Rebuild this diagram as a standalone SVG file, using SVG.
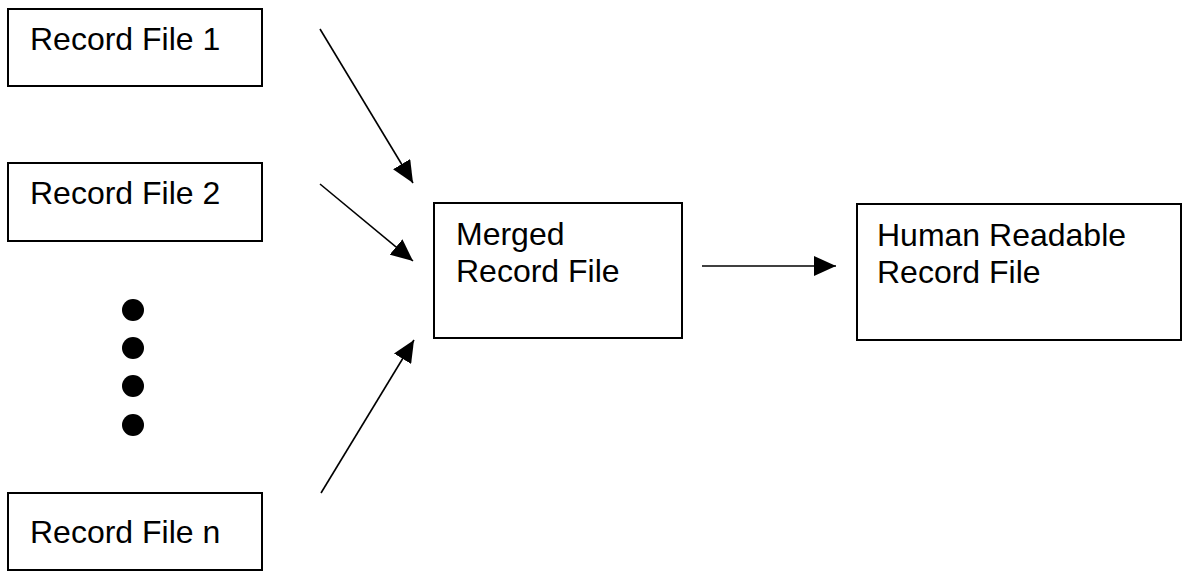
<svg xmlns="http://www.w3.org/2000/svg" width="1182" height="571" viewBox="0 0 1182 571">
  <style>
    .box { fill: #fff; stroke: #000; stroke-width: 2; }
    .lbl { font-family: "Liberation Sans", Arial, sans-serif; font-size: 32px; fill: #000; }
    .conn { stroke: #000; stroke-width: 1.6; fill: none; marker-end: url(#head); }
    .dot { fill: #000; }
  </style>
  <defs>
    <marker id="head" markerUnits="userSpaceOnUse" markerWidth="22" markerHeight="20" refX="22" refY="10" orient="auto">
      <path d="M0,0 L22,10 L0,20 Z" fill="#000"/>
    </marker>
  </defs>
  <rect width="1182" height="571" fill="#fff"/>

  <g id="record-file-1">
    <rect class="box" x="8" y="9" width="254" height="77"/>
    <text class="lbl" x="30" y="50">Record File 1</text>
  </g>

  <g id="record-file-2">
    <rect class="box" x="8" y="163" width="254" height="78"/>
    <text class="lbl" x="30" y="204">Record File 2</text>
  </g>

  <g id="ellipsis">
    <circle class="dot" cx="133" cy="310" r="11"/>
    <circle class="dot" cx="133" cy="348" r="11"/>
    <circle class="dot" cx="133" cy="386" r="11"/>
    <circle class="dot" cx="133" cy="425" r="11"/>
  </g>

  <g id="record-file-n">
    <rect class="box" x="8" y="493" width="254" height="77"/>
    <text class="lbl" x="30" y="543">Record File n</text>
  </g>

  <g id="merged-record-file">
    <rect class="box" x="434" y="203" width="248" height="135"/>
    <text class="lbl" x="456" y="245">Merged</text>
    <text class="lbl" x="456" y="282">Record File</text>
  </g>

  <g id="human-readable-record-file">
    <rect class="box" x="857" y="204" width="324" height="136"/>
    <text class="lbl" x="877" y="246">Human Readable</text>
    <text class="lbl" x="877" y="283">Record File</text>
  </g>

  <g id="connectors">
    <line class="conn" x1="320" y1="29" x2="413" y2="183"/>
    <line class="conn" x1="320" y1="184" x2="413" y2="261"/>
    <line class="conn" x1="321" y1="493" x2="414" y2="340"/>
    <line class="conn" x1="702" y1="266" x2="836" y2="266"/>
  </g>
</svg>
